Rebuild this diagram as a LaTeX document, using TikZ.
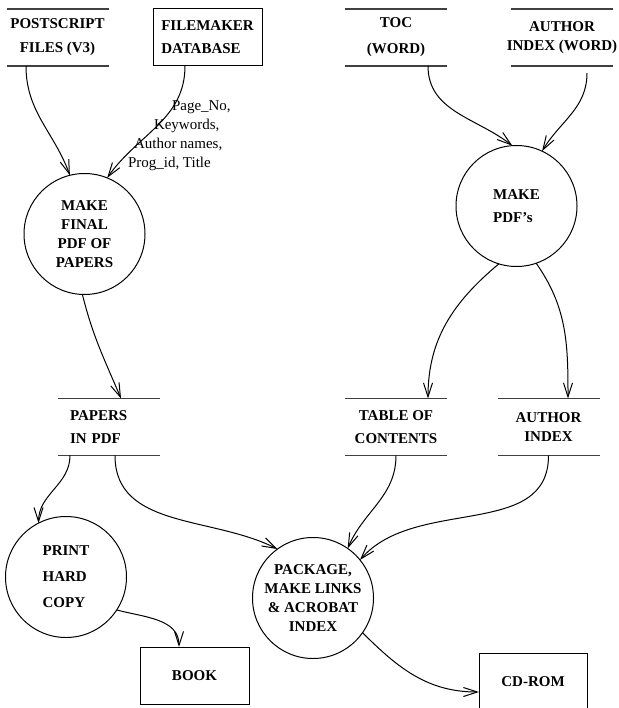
\documentclass[tikz,border=0pt]{standalone}
\usepackage{fontspec}
\setmainfont{Liberation Serif}
\usetikzlibrary{arrows.meta}

\begin{document}
\begin{tikzpicture}[x=1pt,y=-1pt,inner sep=0pt,outer sep=0pt,line width=1pt,
store/.style={minimum width=102pt,minimum height=57pt,align=center,font=\fontsize{15}{19}\selectfont\bfseries},
proc/.style={draw,circle,minimum size=121pt,align=center,font=\fontsize{15}{19}\selectfont\bfseries},
ent/.style={draw,rectangle,minimum width=109pt,minimum height=57pt,font=\fontsize{15}{19}\selectfont\bfseries},
flow/.style={-{Straight Barb[length=14pt,width=9pt]}},
flowlbl/.style={align=left,font=\fontsize{15}{19}\selectfont}]
\useasboundingbox (0,0) rectangle (618,708);

% sources
\node[store] (ps) at (57.5,37.5) {POSTSCRIPT\\[5pt]FILES (V3)};
\node[ent,align=left] (fm) at (207.5,37.5) {FILEMAKER\\[4pt]DATABASE};
\node[store] (toc) at (396,37.5) {TOC\\[7pt](WORD)};
\node[store] (aw) at (562,37.5) {AUTHOR\\\makebox[90pt]{INDEX (WORD)}};

% processes
\node[proc] (fin) at (84.5,234) {MAKE\\FINAL\\PDF OF\\PAPERS};
\node[proc,align=left] (mk) at (516.5,206) {MAKE\\[4pt]PDF's};
\node[proc,align=left] (prt) at (66,577) {PRINT\\[7pt]HARD\\[7pt]COPY};
\node[proc] (pkg) at (313,598) {PACKAGE,\\MAKE LINKS\\\& ACROBAT\\INDEX};

% intermediate stores
\node[store,text width=77pt,align=left] (pdf) at (108.5,427) {PAPERS\\[4pt]IN PDF};
\node[store] (tab) at (396,427) {TABLE OF\\[4pt]CONTENTS};
\node[store] (aix) at (548.5,427) {AUTHOR\\INDEX};

% outputs
\node[ent] (book) at (194.5,675.5) {BOOK};
\node[ent,minimum width=108pt,minimum height=58pt] (cd) at (533,682) {CD-ROM};

\foreach \s in {ps,toc,aw,pdf,tab,aix}
  \draw[line width=1.3pt,black!75] (\s.north west) -- (\s.north east) (\s.south west) -- (\s.south east);

\node[flowlbl,anchor=west] (fmlbl) at (128,135.5) {\hspace*{44pt}Page\_No,\\\hspace*{26pt}Keywords,\\\hspace*{6pt}Author names,\\Prog\_id, Title};

% flows
\draw[flow] ([xshift=-31.5pt]ps.south) to[out=-90,in=110] (fin.104);
\draw[flow] ([xshift=-22.5pt]fm.south) to[out=-90,in=55] (fin.68);
\draw[flow] (fin.-92) to[out=-76,in=113] ([xshift=12.5pt]pdf.north);
\draw[flow] ([xshift=32pt]toc.south) to[out=-90,in=142] (mk.94);
\draw[flow] ([xshift=25pt,yshift=-7pt]aw.south) to[out=-90,in=59] (mk.65);
\draw[flow] (mk.253) to[out=-140,in=90] ([xshift=32pt]tab.north);
\draw[flow] (mk.-71) to[out=-55,in=90] ([xshift=19.5pt]aix.north);
\draw[flow] ([xshift=-38.5pt]pdf.south) to[out=-90,in=90] (prt.117);
\draw[flow] ([xshift=6.5pt]pdf.south) to[out=-90,in=153] (pkg.126);
\draw[flow] (tab.south) to[out=-90,in=67] (pkg.55);
\draw[flow] (aix.south) to[out=-90,in=49] (pkg.39);
\draw[flow] (prt.-33) to[out=-15,in=90] ([xshift=-15.5pt]book.north);
\draw[flow] (pkg.-35) to[out=-45,in=180] ([yshift=-10pt]cd.west);
\end{tikzpicture}
\end{document}
